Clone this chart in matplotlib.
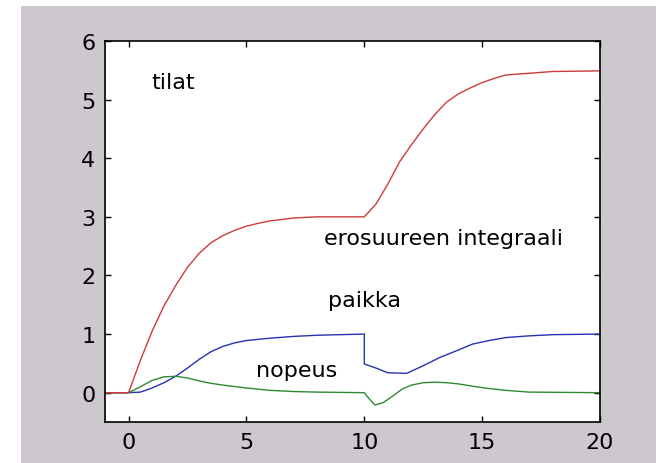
import matplotlib
matplotlib.use("Agg")
import matplotlib.pyplot as plt
from matplotlib.patches import Rectangle

# Integral of the error signal
t_int = [-1, 0, 0.5, 1, 1.5, 2, 2.5, 3, 3.5, 4, 4.5, 5, 5.5, 6, 7, 8, 9, 10,
         10.5, 11, 11.5, 12, 12.5, 13, 13.5, 14, 14.5, 15, 15.5, 16, 17, 18, 20]
y_int = [0, 0, 0.55, 1.05, 1.48, 1.83, 2.14, 2.38, 2.56, 2.68, 2.77, 2.84, 2.89, 2.93, 2.98, 3.0, 3.0, 3.0,
         3.22, 3.56, 3.94, 4.23, 4.5, 4.75, 4.96, 5.1, 5.2, 5.29, 5.36, 5.42, 5.45, 5.48, 5.49]

# Position
t_pos = [-1, 0, 0.5, 1, 1.5, 2, 2.5, 3, 3.5, 4, 4.5, 5, 6, 7, 8, 9, 10,
         10, 10.5, 11, 11.8, 12.5, 13.2, 14, 14.6, 15.3, 16, 17, 18, 20]
y_pos = [0, 0, 0.01, 0.08, 0.17, 0.28, 0.42, 0.57, 0.70, 0.79, 0.85, 0.89, 0.93, 0.96, 0.98, 0.99, 1.0,
         0.49, 0.42, 0.34, 0.33, 0.46, 0.60, 0.73, 0.83, 0.89, 0.94, 0.97, 0.99, 1.0]

# Velocity
t_vel = [-1, 0, 0.5, 1, 1.5, 2, 2.5, 3, 3.5, 4, 5, 6, 7, 8, 10,
         10.2, 10.45, 10.8, 11.2, 11.6, 12, 12.5, 13, 13.5, 14, 14.6, 15.3, 16, 17, 20]
y_vel = [0, 0, 0.10, 0.21, 0.27, 0.28, 0.25, 0.20, 0.16, 0.13, 0.08, 0.04, 0.02, 0.01, 0.0,
         -0.10, -0.21, -0.17, -0.06, 0.06, 0.13, 0.17, 0.18, 0.17, 0.15, 0.11, 0.07, 0.04, 0.01, 0.0]

x_ticks = [0, 5, 10, 15, 20]
y_ticks = [0, 1, 2, 3, 4, 5, 6]

W, H = 656, 464
fig = plt.figure(figsize=(W / 100, H / 100), dpi=100, facecolor="white")
fig.patches.append(Rectangle((21 / W, 0), 1 - 21 / W, 1 - 7 / H,
                             transform=fig.transFigure, facecolor="#cdc8ce",
                             edgecolor="none", zorder=-10))

ax = fig.add_axes([105 / W, (H - 423) / H, (600 - 105) / W, (423 - 42) / H])
ax.set_facecolor("white")

ax.plot(t_pos, y_pos, color="#2633b0", lw=1.0)
ax.plot(t_vel, y_vel, color="#2f8a2f", lw=1.0)
ax.plot(t_int, y_int, color="#d03a3a", lw=1.0)

ax.set_xlim(-1, 20)
ax.set_ylim(-0.5, 6)
ax.set_xticks(x_ticks)
ax.set_yticks(y_ticks)
ax.tick_params(direction="in", length=4, width=1, top=True, right=True,
               labelsize=16, pad=7, colors="black")
for s in ax.spines.values():
    s.set_linewidth(1.2)

txt = dict(fontsize=16, va="center", ha="left", color="black")
ax.text(0.95, 5.3, "tilat", **txt)
ax.text(8.3, 2.64, "erosuureen integraali", **txt)
ax.text(8.45, 1.58, "paikka", **txt)
ax.text(5.4, 0.38, "nopeus", **txt)

fig.savefig("out.png", dpi=100, facecolor=fig.get_facecolor())
